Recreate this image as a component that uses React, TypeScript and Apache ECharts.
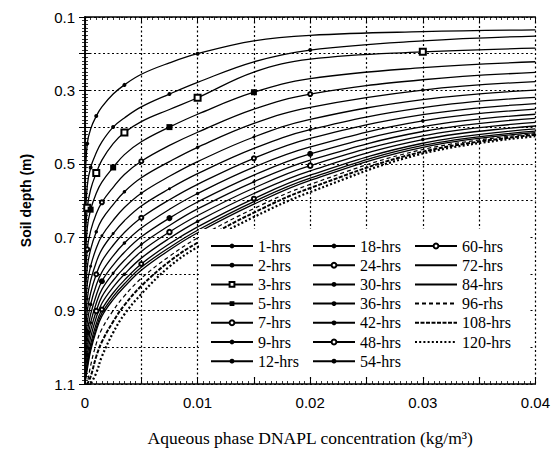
import React, { useEffect, useRef } from 'react';
import * as echarts from 'echarts';

const CONC = [0.04, 0.03, 0.02, 0.015, 0.01, 0.0075, 0.005, 0.0035, 0.0025, 0.0015, 0.001, 0.0005, 0.0002, 0];

// Soil depth (m) of each curve at the concentrations above (null = curve already below 1.1 m)
const D1H = [0.135, 0.14, 0.15, 0.165, 0.2, 0.225, 0.256, 0.285, 0.31, 0.345, 0.37, 0.405, 0.445, 0.56];
const D2H = [0.152, 0.165, 0.19, 0.222, 0.278, 0.31, 0.345, 0.375, 0.4, 0.44, 0.47, 0.51, 0.56, 0.68];
const D3H = [0.185, 0.195, 0.215, 0.25, 0.32, 0.352, 0.385, 0.415, 0.445, 0.49, 0.525, 0.57, 0.62, 0.74];
const D5H = [0.222, 0.238, 0.268, 0.305, 0.365, 0.4, 0.44, 0.475, 0.51, 0.55, 0.58, 0.625, 0.675, 0.8];
const D7H = [0.251, 0.271, 0.31, 0.351, 0.414, 0.45, 0.493, 0.529, 0.564, 0.605, 0.636, 0.683, 0.733, 0.845];
const D9H = [0.276, 0.299, 0.346, 0.39, 0.455, 0.494, 0.538, 0.576, 0.611, 0.652, 0.685, 0.733, 0.783, 0.884];
const D12H = [0.299, 0.325, 0.379, 0.427, 0.494, 0.534, 0.58, 0.619, 0.654, 0.696, 0.73, 0.779, 0.829, 0.92];
const D18H = [0.319, 0.347, 0.407, 0.458, 0.527, 0.568, 0.615, 0.655, 0.69, 0.733, 0.768, 0.818, 0.868, 0.95];
const D24H = [0.336, 0.366, 0.431, 0.485, 0.556, 0.598, 0.647, 0.687, 0.722, 0.765, 0.801, 0.852, 0.902, 0.977];
const D30H = [0.351, 0.383, 0.454, 0.509, 0.581, 0.624, 0.675, 0.716, 0.751, 0.795, 0.831, 0.883, 0.933, 1.001];
const D36H = [0.365, 0.399, 0.473, 0.531, 0.604, 0.648, 0.699, 0.741, 0.776, 0.82, 0.858, 0.91, 0.96, 1.022];
const D42H = [0.376, 0.412, 0.49, 0.549, 0.623, 0.668, 0.72, 0.763, 0.798, 0.842, 0.88, 0.933, 0.983, 1.04];
const D48H = [0.387, 0.424, 0.505, 0.566, 0.641, 0.686, 0.739, 0.783, 0.818, 0.862, 0.901, 0.954, 1.004, 1.057];
const D54H = [0.397, 0.434, 0.519, 0.581, 0.657, 0.703, 0.757, 0.801, 0.836, 0.88, 0.919, 0.973, 1.023, 1.072];
const D60H = [0.405, 0.444, 0.531, 0.595, 0.672, 0.718, 0.773, 0.817, 0.852, 0.897, 0.936, 0.991, 1.041, 1.085];
const D72H = [0.411, 0.45, 0.539, 0.603, 0.681, 0.728, 0.782, 0.827, 0.862, 0.907, 0.947, 1.002, 1.052, 1.093];
const D84H = [0.415, 0.455, 0.545, 0.61, 0.688, 0.735, 0.79, 0.835, 0.87, 0.915, 0.955, 1.01, 1.06, 1.1];
const D96H = [0.418, 0.461, 0.556, 0.622, 0.702, 0.752, 0.812, 0.86, 0.9, 0.95, 0.99, 1.05, 1.1, null];
const D108H = [0.421, 0.467, 0.566, 0.633, 0.715, 0.766, 0.833, 0.885, 0.93, 0.985, 1.025, 1.08, 1.1, null];
const D120H = [0.425, 0.472, 0.577, 0.645, 0.727, 0.78, 0.855, 0.91, 0.96, 1.025, 1.07, 1.1, null, null];

const NAMES = ['1-hrs', '2-hrs', '3-hrs', '5-hrs', '7-hrs', '9-hrs', '12-hrs',
  '18-hrs', '24-hrs', '30-hrs', '36-hrs', '42-hrs', '48-hrs', '54-hrs',
  '60-hrs', '72-hrs', '84-hrs', '96-rhs', '108-hrs', '120-hrs'];

const DEPTHS = [D1H, D2H, D3H, D5H, D7H, D9H, D12H, D18H, D24H, D30H, D36H, D42H, D48H, D54H,
  D60H, D72H, D84H, D96H, D108H, D120H];

// Styling per series (marker type, size, which points carry a marker, line dash)
type Sty = { symbol: string; size: number; marks: number[]; dash?: any; width?: number };
const STY: Sty[] = [
  { symbol: 'circle', size: 4, marks: [4, 7, 10, 12] },
  { symbol: 'circle', size: 4, marks: [2, 5, 8, 11] },
  { symbol: 'emptyRect', size: 6, marks: [1, 4, 7, 10, 12] },
  { symbol: 'rect', size: 6, marks: [3, 5, 8, 11] },
  { symbol: 'emptyCircle', size: 4, marks: [2, 6, 9, 12] },
  { symbol: 'circle', size: 3.5, marks: [1, 4, 7, 10] },
  { symbol: 'circle', size: 3, marks: [3, 6, 9, 11] },
  { symbol: 'circle', size: 3, marks: [2, 5, 8, 12] },
  { symbol: 'emptyCircle', size: 4, marks: [3, 6, 10] },
  { symbol: 'circle', size: 3.5, marks: [1, 4, 7, 11] },
  { symbol: 'circle', size: 6, marks: [2, 5, 9, 12] },
  { symbol: 'circle', size: 3, marks: [3, 6, 8, 11] },
  { symbol: 'emptyCircle', size: 4.5, marks: [2, 5, 10] },
  { symbol: 'circle', size: 3.5, marks: [1, 4, 7, 12] },
  { symbol: 'emptyCircle', size: 4, marks: [3, 6, 9] },
  { symbol: 'none', size: 0, marks: [] },
  { symbol: 'none', size: 0, marks: [] },
  { symbol: 'none', size: 0, marks: [], dash: [4, 3], width: 1.2 },
  { symbol: 'none', size: 0, marks: [], dash: [4, 1.5], width: 2 },
  { symbol: 'none', size: 0, marks: [], dash: [2, 2.2], width: 2.2 },
];

const SERIF = '"Liberation Serif", "Times New Roman", serif';
const SANS = '"Liberation Sans", Arial, sans-serif';

function buildOption() {
  const series = NAMES.map((name, si) => {
    const st = STY[si];
    const data: any[] = [];
    DEPTHS[si].forEach((d, i) => {
      if (d == null) return;
      const item: any = { value: [CONC[i], d] };
      if (st.symbol === 'none' || st.marks.indexOf(i) < 0) item.symbol = 'none';
      data.push(item);
    });
    const empty = st.symbol.indexOf('empty') === 0;
    return {
      type: 'line',
      name,
      data,
      symbol: st.symbol === 'none' ? 'circle' : st.symbol,
      symbolSize: st.size,
      showSymbol: true,
      smooth: 0.4,
      clip: true,
      lineStyle: { color: '#000', width: st.width ?? 1.3, type: st.dash ?? 'solid', cap: 'butt' },
      itemStyle: { color: '#000', borderColor: '#000', borderWidth: empty ? 1 : 0 },
      emphasis: { disabled: true },
      z: 2,
    };
  });

  const legendData = (from: number, to: number) =>
    NAMES.slice(from, to).map((name, k) => {
      const st = STY[from + k];
      return st.symbol === 'none'
        ? { name, itemStyle: { opacity: 0 } }
        : { name };
    });

  const legendBase = {
    orient: 'vertical',
    top: 233,
    itemWidth: 42,
    itemHeight: 6,
    itemGap: 3.2,
    selectedMode: false,
    textStyle: { fontFamily: SERIF, fontSize: 16, color: '#000', lineHeight: 16 },
    z: 5,
  };

  const tickCommon = {
    axisLine: { show: true, lineStyle: { color: '#000', width: 1.5 } },
    axisTick: { show: true, inside: true, length: 6, lineStyle: { color: '#000', width: 1 } },
    minorTick: { show: true, splitNumber: 10, length: 3, lineStyle: { color: '#000', width: 0.8 } },
  };
  const gridLine = { show: true, lineStyle: { color: '#000', width: 1.2, type: [2, 2.5] } };

  return {
    animation: false,
    backgroundColor: '#fff',
    grid: { left: 85, right: 16, top: 17, bottom: 69, containLabel: false },
    xAxis: [
      {
        type: 'value', min: 0, max: 0.04, interval: 0.005, position: 'bottom',
        ...tickCommon,
        splitLine: gridLine,
        axisLabel: {
          margin: 11, color: '#000', fontFamily: SANS, fontSize: 15,
          formatter: (v: number) => {
            const k = Math.round(v / 0.005);
            if (k % 2) return '';
            return k === 0 ? '0' : (k * 0.005).toFixed(2);
          },
        },
        name: 'Aqueous phase DNAPL concentration (kg/m³)',
        nameLocation: 'middle',
        nameGap: 45,
        nameTextStyle: { fontFamily: SERIF, fontSize: 17.5, color: '#000' },
      },
      {
        type: 'value', min: 0, max: 0.04, interval: 0.005, position: 'top',
        ...tickCommon,
        splitLine: { show: false },
        axisLabel: { show: false },
      },
    ],
    yAxis: [
      {
        type: 'value', min: 0.1, max: 1.1, interval: 0.1, inverse: true, position: 'left',
        ...tickCommon,
        splitLine: gridLine,
        axisLabel: {
          margin: 10, color: '#000', fontFamily: SANS, fontSize: 15,
          formatter: (v: number) => {
            const k = Math.round(v * 10);
            return k % 2 ? (k / 10).toFixed(1) : '';
          },
        },
        name: 'Soil depth (m)',
        nameLocation: 'middle',
        nameGap: 52,
        nameTextStyle: { fontFamily: SANS, fontSize: 14, fontWeight: 'bold', color: '#000' },
      },
      {
        type: 'value', min: 0.1, max: 1.1, interval: 0.1, inverse: true, position: 'right',
        ...tickCommon,
        splitLine: { show: false },
        axisLabel: { show: false },
      },
    ],
    legend: [
      { ...legendBase, left: 205, data: legendData(0, 7) },
      { ...legendBase, left: 307, data: legendData(7, 14) },
      { ...legendBase, left: 409, data: legendData(14, 20) },
    ],
    graphic: [
      {
        type: 'rect', left: 199, top: 229, z: 3,
        shape: { width: 331, height: 148 },
        style: { fill: '#fff' },
      },
    ],
    series,
  };
}

export default function App() {
  const ref = useRef<HTMLDivElement>(null);
  useEffect(() => {
    if (!ref.current) return;
    const chart = echarts.init(ref.current, null, { renderer: 'svg' });
    chart.setOption(buildOption() as any);
    return () => chart.dispose();
  }, []);
  return (
    <div
      ref={ref}
      style={{ position: 'absolute', left: 0, top: 0, width: 553, height: 453, background: '#fff' }}
    />
  );
}
